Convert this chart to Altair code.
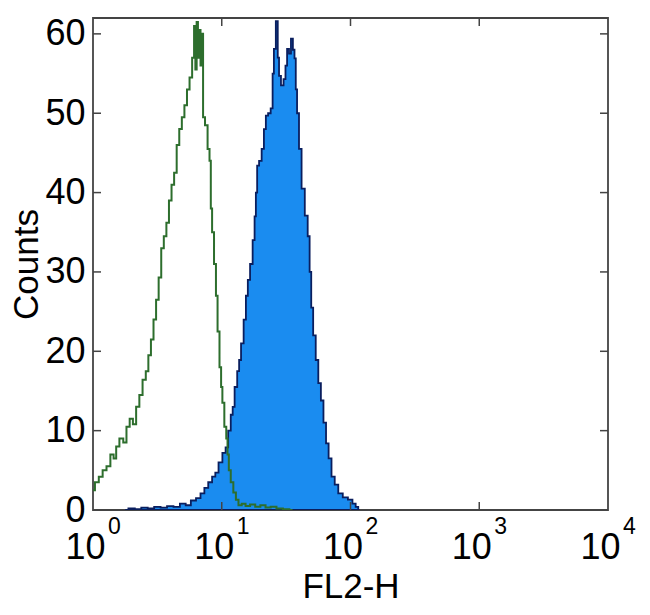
import altair as alt
import pandas as pd

# ---- data ----
green_x = [1.000, 1.072, 1.148, 1.230, 1.318, 1.413, 1.479, 1.549, 1.660, 1.778,
           1.862, 1.995, 2.089, 2.239, 2.344, 2.512, 2.630, 2.754, 2.884, 3.020,
           3.162, 3.311, 3.467, 3.631, 3.802, 3.981, 4.169, 4.365, 4.571, 4.786,
           5.012, 5.248, 5.495, 5.754, 6.026, 6.166, 6.310, 6.457, 6.607, 6.761,
           6.918, 7.079, 7.244, 7.586, 7.943, 8.128, 8.318, 8.511, 8.913, 9.120,
           9.441, 9.772, 10.00, 10.23, 10.72, 10.96, 11.22, 11.48, 12.02, 12.59,
           13.18, 13.80, 14.79, 15.85, 17.38, 19.05, 20.89, 22.91, 25.12, 28.18,
           31.62, 35.48]
green_y = [2.5, 3.5, 4.2, 5.0, 5.5, 7.0, 6.5, 8.0, 9.0, 8.5,
           10.5, 11.5, 10.8, 13.0, 14.5, 16.4, 17.5, 19.5, 21.5, 24.0,
           26.5, 29.3, 33.0, 34.5, 36.2, 39.0, 41.0, 42.5, 46.0, 48.0,
           49.5, 51.0, 53.0, 54.5, 57.0, 61.0, 55.5, 61.5, 57.0, 60.5,
           56.0, 60.0, 49.5, 48.5, 45.5, 44.0, 38.0, 35.0, 31.0, 27.0,
           22.5, 18.0, 15.5, 13.5, 10.5, 9.0, 7.0, 5.0, 3.5, 2.2,
           1.3, 0.6, 0.8, 0.5, 0.7, 0.4, 0.6, 0.3, 0.4, 0.2,
           0.1, 0.0]

blue_x = [1.778, 1.995, 2.239, 2.512, 2.818, 3.162, 3.548, 3.981, 4.467, 5.012,
          5.495, 6.026, 6.607, 7.079, 7.586, 8.128, 8.710, 9.120, 9.772, 10.47,
          10.96, 11.48, 12.02, 12.30, 12.88, 13.49, 13.80, 14.45, 15.14, 15.67,
          16.22, 16.98, 17.78, 18.20, 18.62, 19.05, 19.95, 20.89, 21.63, 22.39,
          23.44, 24.55, 25.12, 25.70, 26.92, 27.54, 28.18, 29.51, 30.90, 31.62,
          32.73, 33.88, 35.08, 36.31, 37.15, 38.02, 38.90, 40.74, 42.66, 45.71,
          47.32, 48.98, 50.12, 52.48, 54.95, 57.54, 60.26, 63.10, 66.07, 69.18,
          73.28, 77.62, 83.18, 91.20, 100.0, 107.2, 112.2, 117.5]
blue_y = [0.0, 0.2, 0.1, 0.3, 0.2, 0.4, 0.3, 0.5, 0.4, 0.8,
          0.6, 1.2, 1.5, 2.1, 2.8, 3.5, 4.2, 4.7, 6.0, 7.2,
          7.9, 10.0, 12.0, 13.0, 15.5, 17.5, 18.9, 21.0, 24.0, 27.0,
          29.0, 31.0, 34.0, 37.0, 40.0, 43.4, 44.0, 45.5, 48.0, 49.7,
          50.0, 50.6, 55.0, 58.1, 61.6, 57.0, 54.7, 53.5, 54.3, 56.0,
          58.1, 57.5, 59.4, 58.0, 56.9, 53.0, 50.0, 45.5, 40.5, 37.1,
          34.5, 30.0, 25.5, 22.0, 18.9, 16.0, 13.8, 11.0, 8.4, 6.5,
          4.2, 3.2, 2.1, 1.6, 1.3, 0.8, 0.4, 0.0]

x_tick_values = [1, 10, 100, 1000, 10000]
x_exponents = ["0", "1", "2", "3", "4"]
y_tick_values = [0, 10, 20, 30, 40, 50, 60]

inner_x_ticks = [10, 100, 1000]
inner_y_ticks = [10, 20, 30, 40, 50, 60]

W, H = 515, 492
FONT = "Liberation Sans"

green_df = pd.DataFrame({"x": green_x, "count": green_y})
blue_df = pd.DataFrame({"x": blue_x, "count": blue_y})
exp_df = pd.DataFrame({"x": x_tick_values, "e": x_exponents})
xt_df = pd.DataFrame({"x": inner_x_ticks})
yt_df = pd.DataFrame({"count": inner_y_ticks})

xscale = alt.Scale(type="log", domain=[1, 10000], nice=False)
yscale = alt.Scale(domain=[0, 62], nice=False, zero=True)

xaxis = alt.Axis(values=x_tick_values, labelExpr="'10'", ticks=False, domain=False,
                 grid=False, labelFont=FONT, labelFontSize=36, labelColor="black",
                 labelPadding=20, labelOffset=-8, labelFlush=False, labelOverlap=False,
                 title="FL2-H", titleFont=FONT, titleFontSize=35, titleFontWeight="normal",
                 titleColor="black", titlePadding=4)
yaxis = alt.Axis(values=y_tick_values, ticks=False, domain=False, grid=False,
                 labelFont=FONT, labelFontSize=36, labelColor="black", labelPadding=8,
                 labelFlush=False, labelOverlap=False,
                 title="Counts", titleFont=FONT, titleFontSize=35, titleFontWeight="normal",
                 titleColor="black", titlePadding=0)

X = alt.X("x:Q", scale=xscale, axis=xaxis)
Y = alt.Y("count:Q", scale=yscale, axis=yaxis)

blue = alt.Chart(blue_df).mark_area(
    interpolate="step", fill="#1a8cf0", stroke="#0a1e5e", strokeWidth=1.8, clip=True
).encode(x=X, y=Y)

green = alt.Chart(green_df).mark_line(
    interpolate="step", color="#2d6e2d", strokeWidth=2, clip=True
).encode(x=X, y=Y)

TICK_COLOR = "#444444"
bottom_ticks = alt.Chart(xt_df).mark_rule(color=TICK_COLOR, strokeWidth=1.5).encode(
    x=X, y=alt.value(H), y2=alt.value(H - 8))
top_ticks = alt.Chart(xt_df).mark_rule(color=TICK_COLOR, strokeWidth=1.5).encode(
    x=X, y=alt.value(0), y2=alt.value(8))
left_ticks = alt.Chart(yt_df).mark_rule(color=TICK_COLOR, strokeWidth=1.5).encode(
    y=Y, x=alt.value(0), x2=alt.value(8))
right_ticks = alt.Chart(yt_df).mark_rule(color=TICK_COLOR, strokeWidth=1.5).encode(
    y=Y, x=alt.value(W), x2=alt.value(W - 8))

exps = alt.Chart(exp_df).mark_text(
    font=FONT, fontSize=23, color="black", align="left", baseline="top", dx=15, dy=6
).encode(x=X, y=alt.value(H), text="e:N")

chart = alt.layer(
    blue, green, bottom_ticks, top_ticks, left_ticks, right_ticks, exps
).properties(
    width=W, height=H,
    padding={"left": 85, "top": 10, "right": 34, "bottom": 97},
    autosize="none",
    background="white",
).configure_view(
    stroke="#444444", strokeWidth=1.8
)

chart.save("out.html", embed_options={"renderer": "svg", "actions": False})
